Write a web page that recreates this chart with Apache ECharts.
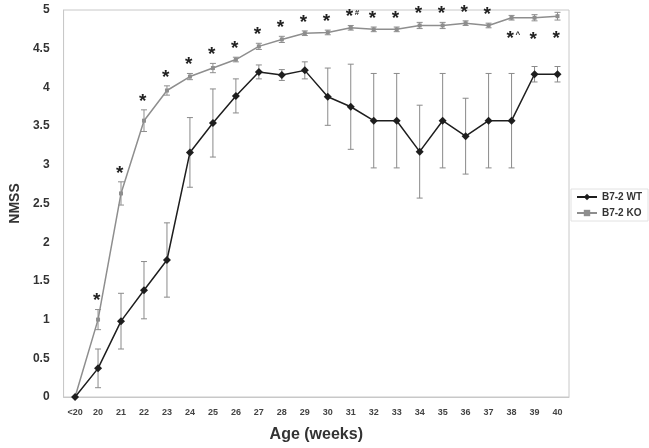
<!DOCTYPE html>
<html>
<head>
<meta charset="utf-8">
<script src="https://cdn.jsdelivr.net/npm/echarts@6/dist/echarts.min.js"></script>
<style>
  html, body { margin: 0; padding: 0; background: #fff; }
  #chart { width: 649px; height: 448px; }
</style>
</head>
<body>
<div id="chart"></div>
<script>
// ages (weeks)
const ages = ['<20', '20', '21', '22', '23', '24', '25', '26', '27', '28', '29', '30',
  '31', '32', '33', '34', '35', '36', '37', '38', '39', '40']

// B7-2 WT mean + SEM
const wtMean = [0, 0.37, 0.98, 1.38, 1.77, 3.16, 3.54, 3.89, 4.2, 4.16, 4.22, 3.88,
  3.75, 3.57, 3.57, 3.17, 3.57, 3.37, 3.57, 3.57, 4.17, 4.17]
const wtErr = [0, 0.25, 0.36, 0.37, 0.48, 0.45, 0.44, 0.22, 0.09, 0.07, 0.11, 0.37,
  0.55, 0.61, 0.61, 0.6, 0.61, 0.49, 0.61, 0.61, 0.1, 0.1]

// B7-2 KO mean + SEM
const koMean = [0, 1.0, 2.63, 3.57, 3.96, 4.14, 4.25, 4.36, 4.53, 4.62, 4.7, 4.71,
  4.77, 4.75, 4.75, 4.8, 4.8, 4.83, 4.8, 4.9, 4.9, 4.92]
const koErr = [0, 0.13, 0.15, 0.14, 0.06, 0.04, 0.06, 0.03, 0.04, 0.04, 0.03, 0.03,
  0.03, 0.03, 0.03, 0.04, 0.04, 0.03, 0.03, 0.03, 0.04, 0.05]

// significance marks: star + small superscript
const starText = ['', '*', '*', '*', '*', '*', '*', '*', '*', '*', '*', '*',
  '*', '*', '*', '*', '*', '*', '*', '*', '*', '*']
const starSup = ['', '', '', '', '', '', '', '', '', '', '', '',
  '#', '', '', '', '', '', '', '^', '', '']
const starBelow = ['38', '39', '40']

const FONT = 'Arial, "Liberation Sans", sans-serif'

const chart = echarts.init(document.getElementById('chart'))

function errData(mean, err) {
  return mean.map((m, i) => [i, m - err[i], m + err[i]])
}

function errRender(color) {
  return function (params, api) {
    const i = api.value(0)
    const lo = api.coord([i, api.value(1)])
    const hi = api.coord([i, api.value(2)])
    if (Math.abs(lo[1] - hi[1]) < 1) return null
    const w = 3
    const style = { stroke: color, lineWidth: 1 }
    return {
      type: 'group',
      children: [
        { type: 'line', shape: { x1: lo[0], y1: lo[1], x2: hi[0], y2: hi[1] }, style },
        { type: 'line', shape: { x1: lo[0] - w, y1: lo[1], x2: lo[0] + w, y2: lo[1] }, style },
        { type: 'line', shape: { x1: hi[0] - w, y1: hi[1], x2: hi[0] + w, y2: hi[1] }, style }
      ]
    }
  }
}

const starData = ages.map((a, i) => [i, koMean[i] - koErr[i], koMean[i] + koErr[i]])

chart.setOption({
  animation: false,
  textStyle: { fontFamily: FONT },
  grid: { left: 58, right: 80, top: 10, bottom: 48, show: true, borderColor: '#c8c8c8', borderWidth: 1 },
  legend: {
    orient: 'vertical',
    right: 1,
    top: 189,
    padding: [3, 6, 3, 5],
    itemGap: 6,
    itemWidth: 20,
    itemHeight: 8,
    borderColor: '#e2e2e2',
    borderWidth: 1,
    textStyle: { fontFamily: FONT, fontSize: 10, fontWeight: 'bold', color: '#333' },
    data: ['B7-2 WT', 'B7-2 KO']
  },
  xAxis: {
    type: 'category',
    data: ages,
    name: 'Age (weeks)',
    nameLocation: 'middle',
    nameGap: 30,
    nameTextStyle: { fontFamily: FONT, fontSize: 16, fontWeight: 'bold', color: '#333' },
    axisLine: { lineStyle: { color: '#c8c8c8' } },
    axisTick: { show: false },
    axisLabel: { fontFamily: FONT, fontSize: 9, fontWeight: 'bold', color: '#444', interval: 0, margin: 11 }
  },
  yAxis: {
    type: 'value',
    min: 0,
    max: 5,
    interval: 0.5,
    name: 'NMSS',
    nameLocation: 'middle',
    nameGap: 38,
    nameTextStyle: { fontFamily: FONT, fontSize: 14, fontWeight: 'bold', color: '#333' },
    axisLine: { show: true, lineStyle: { color: '#c8c8c8' } },
    axisTick: { show: false },
    splitLine: { show: false },
    axisLabel: { fontFamily: FONT, fontSize: 12, fontWeight: 'bold', color: '#333', margin: 14 }
  },
  series: [
    {
      name: 'B7-2 KO',
      type: 'line',
      data: koMean,
      symbol: 'rect',
      symbolSize: 4,
      lineStyle: { color: '#8e8e8e', width: 1.5 },
      itemStyle: { color: '#8e8e8e' },
      z: 2
    },
    {
      name: 'KO err',
      type: 'custom',
      renderItem: errRender('#8e8e8e'),
      data: errData(koMean, koErr),
      encode: { x: 0, y: [1, 2] },
      z: 3
    },
    {
      name: 'WT err',
      type: 'custom',
      renderItem: errRender('#8a8a8a'),
      data: errData(wtMean, wtErr),
      encode: { x: 0, y: [1, 2] },
      z: 3
    },
    {
      name: 'B7-2 WT',
      type: 'line',
      data: wtMean,
      symbol: 'diamond',
      symbolSize: 8,
      lineStyle: { color: '#1e1e1e', width: 1.5 },
      itemStyle: { color: '#1e1e1e' },
      z: 4
    },
    {
      name: 'stars',
      type: 'custom',
      data: starData,
      encode: { x: 0, y: [1, 2] },
      renderItem: function (params, api) {
        const i = api.value(0)
        if (!starText[i]) return null
        const below = starBelow.indexOf(ages[i]) >= 0
        const p = below ? api.coord([i, api.value(1)]) : api.coord([i, api.value(2)])
        const children = [{
          type: 'text',
          style: {
            x: p[0] - 5,
            y: below ? p[1] + 9 : p[1] + 1,
            text: starText[i],
            fill: '#222',
            font: 'bold 19px ' + FONT,
            textAlign: 'left',
            textVerticalAlign: below ? 'top' : 'bottom'
          }
        }]
        if (starSup[i]) {
          children.push({
            type: 'text',
            style: {
              x: p[0] + 4,
              y: below ? p[1] + 11 : p[1] - 17,
              text: starSup[i],
              fill: '#222',
              font: 'bold 8px ' + FONT,
              textAlign: 'left',
              textVerticalAlign: 'top'
            }
          })
        }
        return { type: 'group', children }
      },
      z: 5
    }
  ]
})
</script>
</body>
</html>
